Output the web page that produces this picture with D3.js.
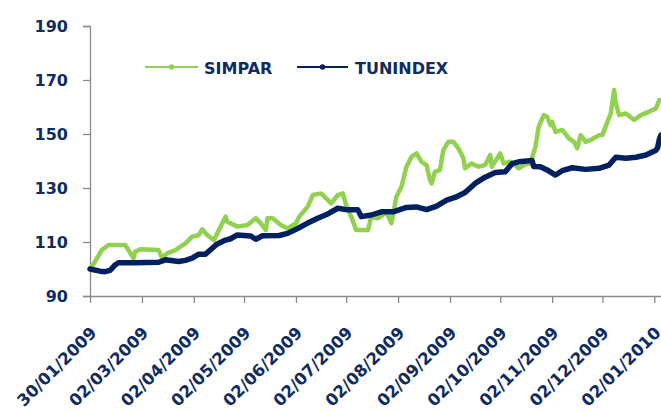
<!DOCTYPE html>
<html><head><meta charset="utf-8">
<script src="https://cdn.jsdelivr.net/npm/d3@7"></script>
<style>
html,body{margin:0;padding:0;background:#fff;}
svg{display:block;}
text{font-family:"DejaVu Sans",Verdana,sans-serif;font-weight:bold;fill:#0f2b5f;}
</style></head>
<body>
<svg id="chart" width="661" height="412"></svg>
<script>
const seriesNames = ["SIMPAR", "TUNINDEX"];
const simparDates = ["2009-01-30","2009-02-02","2009-02-06","2009-02-10","2009-02-16","2009-02-20","2009-02-22","2009-02-25","2009-02-26","2009-03-01","2009-03-12","2009-03-14","2009-03-17","2009-03-22","2009-03-28","2009-04-01","2009-04-05","2009-04-07","2009-04-10","2009-04-14","2009-04-16","2009-04-21","2009-04-22","2009-04-28","2009-05-04","2009-05-09","2009-05-12","2009-05-15","2009-05-16","2009-05-19","2009-05-24","2009-05-28","2009-06-02","2009-06-04","2009-06-09","2009-06-12","2009-06-17","2009-06-20","2009-06-23","2009-06-27","2009-06-30","2009-07-02","2009-07-05","2009-07-08","2009-07-15","2009-07-17","2009-07-21","2009-07-26","2009-07-29","2009-08-01","2009-08-04","2009-08-07","2009-08-10","2009-08-13","2009-08-16","2009-08-19","2009-08-21","2009-08-22","2009-08-24","2009-08-27","2009-08-29","2009-09-01","2009-09-04","2009-09-07","2009-09-10","2009-09-11","2009-09-15","2009-09-19","2009-09-23","2009-09-26","2009-09-27","2009-10-02","2009-10-04","2009-10-08","2009-10-13","2009-10-17","2009-10-20","2009-10-23","2009-10-25","2009-10-28","2009-10-30","2009-11-01","2009-11-02","2009-11-04","2009-11-08","2009-11-12","2009-11-15","2009-11-17","2009-11-19","2009-11-22","2009-11-25","2009-11-30","2009-12-02","2009-12-05","2009-12-07","2009-12-09","2009-12-10","2009-12-12","2009-12-16","2009-12-21","2009-12-25","2009-12-30","2010-01-03","2010-01-05"];
const simparValues = [100,102.7,107,108.9,108.9,108.9,107,104,106.4,107.3,107,104,105.8,107,109.5,112,112.6,114.7,112.6,110.7,113.2,119.4,117.5,115.7,116.3,118.8,116.9,114.4,118.8,118.8,116.3,115,116.9,119.4,123.1,127.4,128,126.2,124.3,127.4,128,123.7,119.4,114.4,114.4,119.4,118.8,121,117,126.8,130.5,137.9,141.6,142.8,139.7,138.5,133,131.7,136,136.7,144,147.1,147.1,144.7,141,137.3,139.1,137.9,138.5,142.2,137.9,142.8,139.1,139.7,137.3,138.8,139.1,145.3,152.7,157,156.4,153.3,154.5,150.8,151.5,148.4,147.1,144.7,149.6,147.1,147.8,149.6,149.6,154.5,157.6,166.3,161.4,157,157.6,155.2,157,158.3,159.5,162.6];
const tunDates = ["2009-01-30","2009-02-05","2009-02-08","2009-02-11","2009-02-14","2009-02-16","2009-02-26","2009-03-12","2009-03-16","2009-03-24","2009-03-28","2009-04-01","2009-04-05","2009-04-09","2009-04-13","2009-04-16","2009-04-21","2009-04-24","2009-04-28","2009-05-06","2009-05-09","2009-05-13","2009-05-23","2009-05-28","2009-06-03","2009-06-09","2009-06-15","2009-06-21","2009-06-27","2009-07-03","2009-07-09","2009-07-11","2009-07-17","2009-07-23","2009-07-30","2009-08-07","2009-08-13","2009-08-19","2009-08-25","2009-08-31","2009-09-05","2009-09-11","2009-09-17","2009-09-23","2009-09-29","2009-10-05","2009-10-09","2009-10-13","2009-10-21","2009-10-22","2009-10-26","2009-10-30","2009-11-04","2009-11-08","2009-11-14","2009-11-22","2009-11-30","2009-12-06","2009-12-10","2009-12-16","2009-12-22","2009-12-28","2010-01-03","2010-01-04","2010-01-05","2010-01-06"];
const tunValues = [100,99.2,99,99.5,101.5,102.3,102.3,102.5,103.4,102.8,103.2,104,105.5,105.5,107.7,109.3,110.7,111.2,112.6,112.2,111,112.3,112.4,113.2,115,117,118.8,120.4,122.5,121.9,121.9,119.4,120,121.2,121.2,122.8,123,122,123.3,125.5,126.5,128.3,131.7,134,135.7,136,139,139.7,140.2,138,137.9,136.7,134.8,136.4,137.5,136.9,137.3,138.5,141.4,141,141.4,142.2,144,145,148,149.6];
const yTicks = [90,110,130,150,170,190];
const xTickDates = ["2009-01-30","2009-03-02","2009-04-02","2009-05-02","2009-06-02","2009-07-02","2009-08-02","2009-09-02","2009-10-02","2009-11-02","2009-12-02","2010-01-02"];
const xDomain = ["2009-01-30","2010-01-06"];

const parse = d3.timeParse("%Y-%m-%d");
const fmt = d3.timeFormat("%d/%m/%Y");
const svg = d3.select("#chart");
const x = d3.scaleTime().domain(xDomain.map(parse)).range([90, 661]);
const y = d3.scaleLinear().domain([90,190]).range([296, 26]);
const axisColor = "#8a8a8a";

// y axis
const ya = svg.append("g").attr("transform","translate(90,0)")
  .call(d3.axisLeft(y).tickValues(yTicks).tickSize(7).tickPadding(15));
ya.select(".domain").attr("stroke",axisColor).attr("stroke-width",1.3);
ya.selectAll(".tick line").attr("stroke",axisColor).attr("stroke-width",1.3);
ya.selectAll(".tick text").attr("font-size",16).attr("font-family","DejaVu Sans").attr("font-weight","bold").attr("fill","#0f2b5f");

// x axis
const xa = svg.append("g").attr("transform","translate(0,296)")
  .call(d3.axisBottom(x).tickValues(xTickDates.map(parse)).tickSize(7).tickSizeOuter(0).tickFormat(fmt));
xa.select(".domain").attr("stroke",axisColor).attr("stroke-width",1.3);
xa.selectAll(".tick line").attr("stroke",axisColor).attr("stroke-width",1.3);
xa.selectAll(".tick text")
  .attr("font-size",16.5).attr("font-family","DejaVu Sans").attr("font-weight","bold").attr("fill","#0f2b5f")
  .attr("text-anchor","end").attr("y",0).attr("dy",0)
  .attr("transform","translate(7,38) rotate(-45)");

const line = d3.line().x(d=>x(d[0])).y(d=>y(d[1])).curve(d3.curveLinear);
const sData = simparDates.map((d,i)=>[parse(d), simparValues[i]]);
const tData = tunDates.map((d,i)=>[parse(d), tunValues[i]]);

const plot = svg.append("g");
plot.append("path").datum(sData).attr("d",line).attr("fill","none")
  .attr("stroke","#92d050").attr("stroke-width",4.5).attr("stroke-linejoin","round").attr("stroke-linecap","round");
plot.append("path").datum(tData).attr("d",line).attr("fill","none")
  .attr("stroke","#002060").attr("stroke-width",5.5).attr("stroke-linejoin","round").attr("stroke-linecap","round");

// legend
const legend = [
  {name: seriesNames[0], color:"#92d050", x0:145, x1:198, tx:204},
  {name: seriesNames[1], color:"#002060", x0:297, x1:348, tx:355}
];
const lg = svg.append("g");
legend.forEach(l=>{
  lg.append("line").attr("x1",l.x0).attr("x2",l.x1).attr("y1",67).attr("y2",67)
    .attr("stroke",l.color).attr("stroke-width",2.2);
  lg.append("circle").attr("cx",(l.x0+l.x1)/2).attr("cy",67).attr("r",2.8).attr("fill",l.color);
  lg.append("text").attr("x",l.tx).attr("y",74).attr("font-size",16).text(l.name);
});
</script>
</body></html>
